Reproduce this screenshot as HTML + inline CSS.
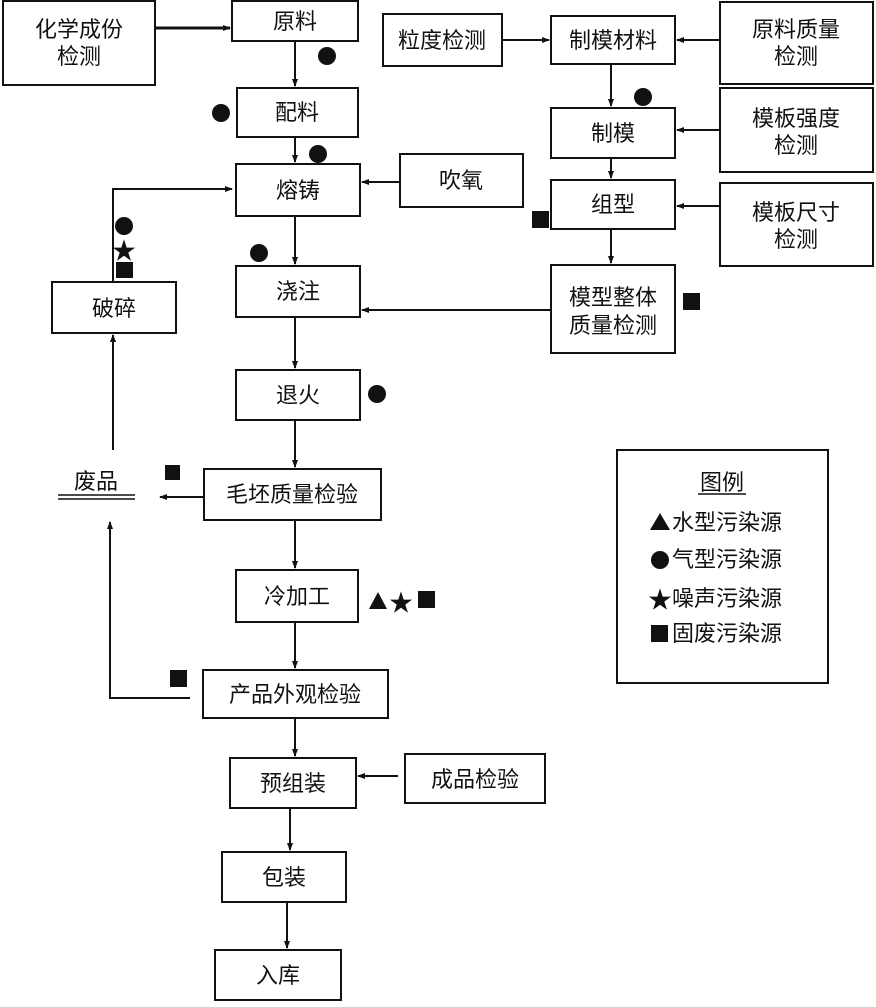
<!DOCTYPE html>
<html><head><meta charset="utf-8"><style>
html,body{margin:0;padding:0;background:#fff;}
svg text{font-family:"Liberation Sans","Noto Sans CJK SC",sans-serif;font-size:22px;fill:#111;}
</style></head><body>
<svg width="876" height="1002" viewBox="0 0 876 1002" xmlns="http://www.w3.org/2000/svg">
<defs><marker id="a" markerWidth="8" markerHeight="8" refX="7" refY="4" orient="auto" markerUnits="userSpaceOnUse"><path d="M0,1 L8,4 L0,7 z" fill="#111"/></marker></defs>
<g fill="#fff" stroke="#111" stroke-width="2">
<rect x="3" y="1" width="152" height="84"/>
<rect x="232" y="1" width="126" height="40"/>
<rect x="237" y="88" width="121" height="49"/>
<rect x="236" y="164" width="124" height="52"/>
<rect x="400" y="154" width="123" height="53"/>
<rect x="52" y="282" width="124" height="51"/>
<rect x="236" y="266" width="124" height="51"/>
<rect x="236" y="370" width="124" height="50"/>
<rect x="204" y="469" width="177" height="51"/>
<rect x="236" y="570" width="122" height="52"/>
<rect x="203" y="670" width="185" height="48"/>
<rect x="230" y="758" width="126" height="50"/>
<rect x="405" y="754" width="140" height="49"/>
<rect x="222" y="852" width="124" height="50"/>
<rect x="215" y="950" width="126" height="50"/>
<rect x="383" y="14" width="119" height="52"/>
<rect x="551" y="16" width="124" height="48"/>
<rect x="720" y="2" width="153" height="82"/>
<rect x="551" y="108" width="124" height="50"/>
<rect x="720" y="88" width="153" height="84"/>
<rect x="551" y="180" width="124" height="49"/>
<rect x="720" y="183" width="153" height="83"/>
<rect x="551" y="265" width="124" height="88"/>
<rect x="617" y="450" width="211" height="233"/>
</g>
<g stroke="#111" stroke-width="2" fill="none" marker-end="url(#a)">
<path d="M155 28 H230" stroke-width="3"/>
<path d="M295 41 V86"/>
<path d="M295 137 V162"/>
<path d="M400 182 H362"/>
<path d="M295 216 V264"/>
<path d="M295 317 V368"/>
<path d="M295 420 V467"/>
<path d="M295 520 V568"/>
<path d="M295 622 V668"/>
<path d="M295 718 V756"/>
<path d="M290 808 V850"/>
<path d="M287 902 V948"/>
<path d="M398 776 H358"/>
<path d="M204 497 H160"/>
<path d="M190 698 H110 V522"/>
<path d="M113 450 V335"/>
<path d="M113 282 V189 H232"/>
<path d="M502 40 H549"/>
<path d="M720 40 H677"/>
<path d="M611 64 V106"/>
<path d="M720 130 H677"/>
<path d="M611 158 V178"/>
<path d="M720 206 H677"/>
<path d="M611 229 V263"/>
<path d="M551 310 H362"/>
</g>
<line x1="58" y1="495" x2="135" y2="495" stroke="#111" stroke-width="1.5"/>
<line x1="58" y1="499" x2="135" y2="499" stroke="#111" stroke-width="1.5"/>
<g text-anchor="middle">
<text x="79" y="37">化学成份</text><text x="79" y="64">检测</text>
<text x="295" y="29">原料</text>
<text x="297" y="120">配料</text>
<text x="298" y="198">熔铸</text>
<text x="461" y="188">吹氧</text>
<text x="114" y="316">破碎</text>
<text x="298" y="299">浇注</text>
<text x="298" y="403">退火</text>
<text x="292" y="502">毛坯质量检验</text>
<text x="297" y="604">冷加工</text>
<text x="295" y="702">产品外观检验</text>
<text x="293" y="791">预组装</text>
<text x="475" y="787">成品检验</text>
<text x="284" y="885">包装</text>
<text x="278" y="983">入库</text>
<text x="442" y="48">粒度检测</text>
<text x="613" y="48">制模材料</text>
<text x="796" y="37">原料质量</text><text x="796" y="64">检测</text>
<text x="613" y="141">制模</text>
<text x="796" y="126">模板强度</text><text x="796" y="153">检测</text>
<text x="613" y="212">组型</text>
<text x="796" y="220">模板尺寸</text><text x="796" y="247">检测</text>
<text x="613" y="305">模型整体</text><text x="613" y="333">质量检测</text>
<text x="96" y="489">废品</text>
<text x="722" y="490">图例</text>
</g>
<line x1="698" y1="494" x2="746" y2="494" stroke="#111" stroke-width="1.5"/>
<g>
<text x="672" y="530">水型污染源</text>
<text x="672" y="567">气型污染源</text>
<text x="672" y="606">噪声污染源</text>
<text x="672" y="641">固废污染源</text>
<path d="M650 530 L660 513 L670 530 z" fill="#111"/>
<circle cx="660" cy="560" r="9" fill="#111"/>
<text x="648" y="608" style="font-size:24px">★</text>
<rect x="651" y="625" width="17" height="17" fill="#111"/>
</g>
<g fill="#111">
<circle cx="327" cy="56" r="9"/>
<circle cx="221" cy="113" r="9"/>
<circle cx="318" cy="154" r="9"/>
<circle cx="259" cy="253" r="9"/>
<circle cx="377" cy="394" r="9"/>
<circle cx="643" cy="97" r="9"/>
<circle cx="124" cy="226" r="9"/>
<text x="112" y="259" style="font-size:24px">★</text>
<rect x="116" y="262" width="17" height="16"/>
<rect x="532" y="211" width="17" height="17"/>
<rect x="683" y="293" width="17" height="17"/>
<rect x="165" y="465" width="15" height="15"/>
<rect x="170" y="670" width="17" height="17"/>
<path d="M369 609 L378 592 L387 609 z"/>
<text x="389" y="611" style="font-size:24px">★</text>
<rect x="418" y="591" width="17" height="17"/>
</g>
</svg>
</body></html>
